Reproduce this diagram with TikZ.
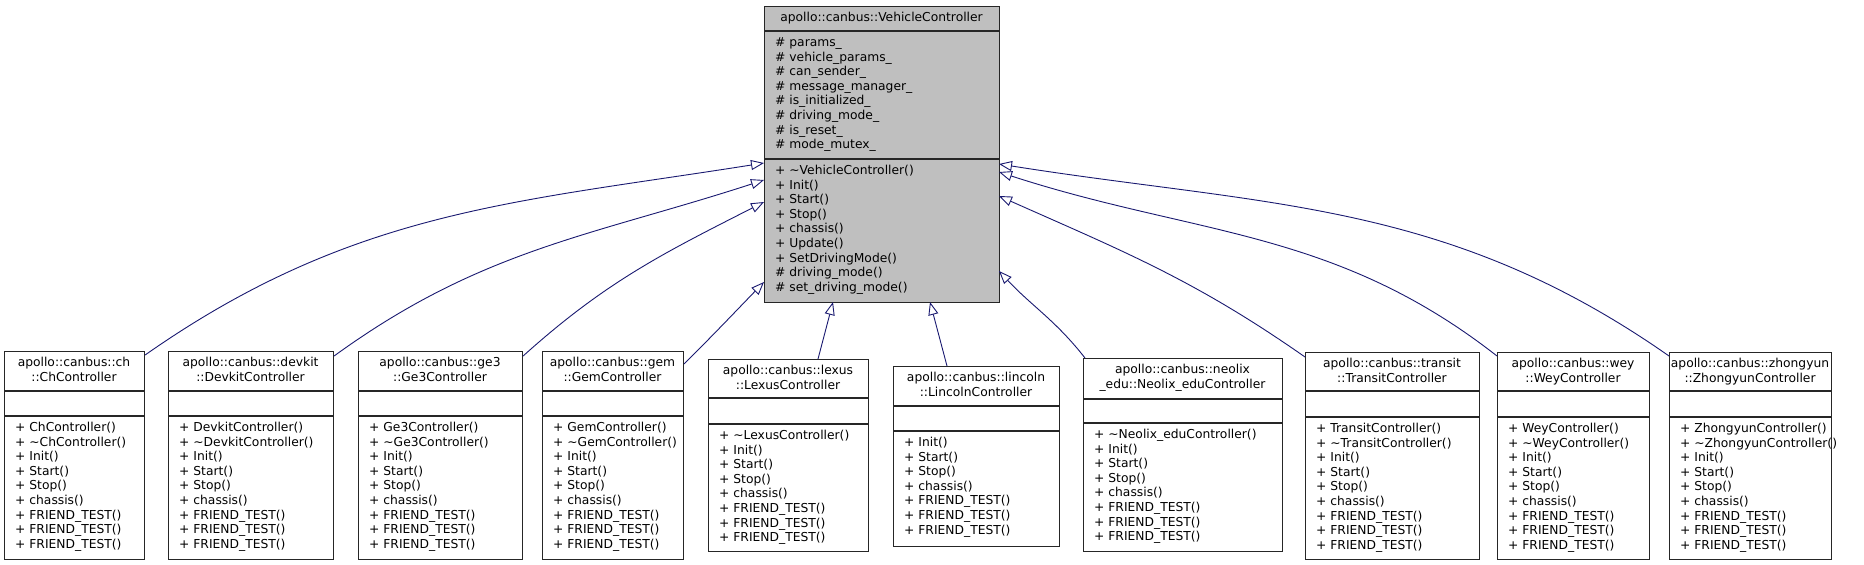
\documentclass[tikz,border=0pt]{standalone}
\usepackage{fontspec}
\setmainfont{DejaVu Sans}
\usetikzlibrary{arrows.meta}
\definecolor{edgeblue}{HTML}{191970}
\definecolor{boxgray}{HTML}{BFBFBF}
\tikzset{
  box/.style={draw=black!85, line width=1.1pt, inner sep=0, anchor=north west},
  sep/.style={draw=black!85, line width=1.1pt},
  txt/.style={inner sep=0, font=\fontsize{12.3}{14.6}\selectfont, text height=9pt, text depth=3pt},
  inh/.style={draw=edgeblue, line width=0.9pt, -{Triangle[open, length=13pt, width=10pt, line width=0.9pt]}},
}
% #1 name, #2 x1, #3 y1, #4 x2, #5 sep1, #6 sep2, #7 y2, #8 title line1, #9 title line2
\newcommand\mkcls[9]{%
  \pgfmathsetmacro\bw{#4-#2}\pgfmathsetmacro\bh{#7-#3}%
  \node[box, minimum width=\bw pt, minimum height=\bh pt] (#1) at (#2,#3) {};
  \draw[sep] (#2,#5) -- (#4,#5);
  \draw[sep] (#2,#6) -- (#4,#6);
  \pgfmathsetmacro\cx{(#2+#4)/2}%
  \node[txt] (#1-t1) at (\cx,#3+12.5) {#8};
  \node[txt] (#1-t2) at (\cx,#3+27) {#9};
}
\newcommand\mkmeth[4]{% x, sep, name-prefix, list
  \foreach \t [count=\i] in {#4} {
    \node[txt, anchor=west] (#3-m\i) at (#1+11, #2+12.5+\i*14.6-14.6) {\t};
  }
}
\begin{document}
\begin{tikzpicture}[x=1pt,y=-1pt]
\useasboundingbox (0,0) rectangle (1864,565);
% parent
\node[box, fill=boxgray, minimum width=235pt, minimum height=296pt] (vc) at (764,6) {};
\draw[sep] (764,31) -- (999,31);
\draw[sep] (764,159) -- (999,159);
\node[txt] (vc-t) at (881.5,18.5) {apollo::canbus::VehicleController};
\mkmeth{764}{31}{vca}{\# params\_, \# vehicle\_params\_, \# can\_sender\_, \# message\_manager\_, \# is\_initialized\_, \# driving\_mode\_, \# is\_reset\_, \# mode\_mutex\_}
\mkmeth{764}{159}{vcm}{+ \textasciitilde VehicleController(), + Init(), + Start(), + Stop(), + chassis(), + Update(), + SetDrivingMode(), \# driving\_mode(), \# set\_driving\_mode()}

\mkcls{ch}{4}{351}{144}{391}{416}{559}{apollo::canbus::ch}{::ChController}
\mkmeth{4}{416}{chm}{+ ChController(), + \textasciitilde ChController(), + Init(), + Start(), + Stop(), + chassis(), + FRIEND\_TEST(), + FRIEND\_TEST(), + FRIEND\_TEST()}
\mkcls{dk}{168}{351}{333}{391}{416}{559}{apollo::canbus::devkit}{::DevkitController}
\mkmeth{168}{416}{dkm}{+ DevkitController(), + \textasciitilde DevkitController(), + Init(), + Start(), + Stop(), + chassis(), + FRIEND\_TEST(), + FRIEND\_TEST(), + FRIEND\_TEST()}
\mkcls{ge}{358}{351}{522}{391}{416}{559}{apollo::canbus::ge3}{::Ge3Controller}
\mkmeth{358}{416}{gem3}{+ Ge3Controller(), + \textasciitilde Ge3Controller(), + Init(), + Start(), + Stop(), + chassis(), + FRIEND\_TEST(), + FRIEND\_TEST(), + FRIEND\_TEST()}
\mkcls{gm}{542}{351}{683}{391}{416}{559}{apollo::canbus::gem}{::GemController}
\mkmeth{542}{416}{gmm}{+ GemController(), + \textasciitilde GemController(), + Init(), + Start(), + Stop(), + chassis(), + FRIEND\_TEST(), + FRIEND\_TEST(), + FRIEND\_TEST()}
\mkcls{lx}{708}{359}{868}{398}{424}{551}{apollo::canbus::lexus}{::LexusController}
\mkmeth{708}{424}{lxm}{+ \textasciitilde LexusController(), + Init(), + Start(), + Stop(), + chassis(), + FRIEND\_TEST(), + FRIEND\_TEST(), + FRIEND\_TEST()}
\mkcls{ln}{893}{366}{1059}{406}{431}{546}{apollo::canbus::lincoln}{::LincolnController}
\mkmeth{893}{431}{lnm}{+ Init(), + Start(), + Stop(), + chassis(), + FRIEND\_TEST(), + FRIEND\_TEST(), + FRIEND\_TEST()}
\mkcls{nx}{1083}{358}{1282}{399}{423}{551}{apollo::canbus::neolix}{\_edu::Neolix\_eduController}
\mkmeth{1083}{423}{nxm}{+ \textasciitilde Neolix\_eduController(), + Init(), + Start(), + Stop(), + chassis(), + FRIEND\_TEST(), + FRIEND\_TEST(), + FRIEND\_TEST()}
\mkcls{tr}{1305}{352}{1479}{391}{417}{559}{apollo::canbus::transit}{::TransitController}
\mkmeth{1305}{417}{trm}{+ TransitController(), + \textasciitilde TransitController(), + Init(), + Start(), + Stop(), + chassis(), + FRIEND\_TEST(), + FRIEND\_TEST(), + FRIEND\_TEST()}
\mkcls{wy}{1497}{352}{1649}{391}{417}{559}{apollo::canbus::wey}{::WeyController}
\mkmeth{1497}{417}{wym}{+ WeyController(), + \textasciitilde WeyController(), + Init(), + Start(), + Stop(), + chassis(), + FRIEND\_TEST(), + FRIEND\_TEST(), + FRIEND\_TEST()}
\mkcls{zy}{1669}{352}{1831}{391}{417}{559}{apollo::canbus::zhongyun}{::ZhongyunController}
\mkmeth{1669}{417}{zym}{+ ZhongyunController(), + \textasciitilde ZhongyunController(), + Init(), + Start(), + Stop(), + chassis(), + FRIEND\_TEST(), + FRIEND\_TEST(), + FRIEND\_TEST()}

% attachment points on parent
\coordinate (pl1) at (764,163); \coordinate (pl2) at (764,180);
\coordinate (pl3) at (764,202); \coordinate (pl4) at (764,282);
\coordinate (pb1) at (833,302); \coordinate (pb2) at (930,302);
\coordinate (pr1) at (999,164); \coordinate (pr2) at (999,172);
\coordinate (pr3) at (999,196); \coordinate (pr4) at (999,271);

\draw[inh] ([yshift=-4pt]ch.north east) to[out=35,in=189] (pl1);
\draw[inh] ([yshift=-5pt]dk.north east) to[out=36,in=198] (pl2);
\draw[inh] ([yshift=-5pt]ge.north east) to[out=42,in=207] (pl3);
\draw[inh] ([yshift=-13pt]gm.north east) to[out=45,in=226] (pl4);
\draw[inh] (lx.north -| 818,0) -- (pb1);
\draw[inh] (ln.north -| 947,0) -- (pb2);
\draw[inh] ([xshift=2pt]nx.north west) to[out=128,in=-47] (pr4);
\draw[inh] ([yshift=-5pt]tr.north west) to[out=145,in=-24] (pr3);
\draw[inh] ([yshift=-4pt]wy.north west) to[out=142,in=-18] (pr2);
\draw[inh] ([yshift=-4pt]zy.north west) to[out=145,in=-9] (pr1);
\end{tikzpicture}
\end{document}
